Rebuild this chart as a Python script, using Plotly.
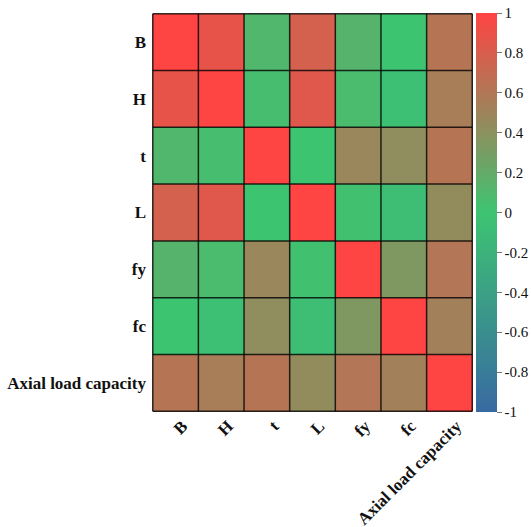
import plotly.graph_objects as go

# Variables in the correlation matrix
labels = ["B", "H", "t", "L", "fy", "fc", "Axial load capacity"]

# Pearson correlation coefficients, one row per variable
row_B = [1.00, 0.88, 0.10, 0.78, 0.13, 0.00, 0.62]
row_H = [0.88, 1.00, 0.05, 0.84, 0.07, -0.05, 0.55]
row_t = [0.10, 0.05, 1.00, 0.00, 0.48, 0.43, 0.62]
row_L = [0.78, 0.84, 0.00, 1.00, 0.02, -0.07, 0.44]
row_fy = [0.13, 0.07, 0.48, 0.02, 1.00, 0.34, 0.61]
row_fc = [0.00, -0.05, 0.43, -0.07, 0.34, 1.00, 0.52]
row_axial = [0.62, 0.55, 0.62, 0.44, 0.61, 0.52, 1.00]

matrix = [row_B, row_H, row_t, row_L, row_fy, row_fc, row_axial]

colorbar_ticks = [1, 0.8, 0.6, 0.4, 0.2, 0, -0.2, -0.4, -0.6, -0.8, -1]

font_family = "Liberation Serif"

fig = go.Figure(
    go.Heatmap(
        z=matrix,
        x=labels,
        y=labels,
        zmin=-1,
        zmax=1,
        colorscale=[
            [0.0, "#386aa2"],
            [0.5, "#3dc471"],
            [1.0, "#ff4444"],
        ],
        colorbar=dict(
            thickness=21,
            len=1.0,
            lenmode="fraction",
            y=0.5,
            yanchor="middle",
            x=1.0,
            xanchor="left",
            xpad=3,
            ypad=0,
            outlinewidth=0,
            tickvals=colorbar_ticks,
            ticktext=[str(v) for v in colorbar_ticks],
            ticks="outside",
            ticklen=5,
            tickcolor="#777777",
            tickfont=dict(family=font_family, size=15, color="#111111"),
        ),
        hoverongaps=False,
    )
)

# Dark cell borders
n = len(labels)
shapes = []
for k in range(n + 1):
    pos = k - 0.5
    shapes.append(dict(type="line", xref="x", yref="y", x0=pos, x1=pos, y0=-0.5, y1=n - 0.5,
                       line=dict(color="rgba(0,0,0,0.8)", width=1.5)))
    shapes.append(dict(type="line", xref="x", yref="y", x0=-0.5, x1=n - 0.5, y0=pos, y1=pos,
                       line=dict(color="rgba(0,0,0,0.8)", width=1.5)))

fig.update_layout(
    width=531,
    height=527,
    margin=dict(l=152, r=58, t=13, b=115, autoexpand=False),
    paper_bgcolor="white",
    plot_bgcolor="white",
    shapes=shapes,
    xaxis=dict(
        tickangle=-45,
        tickfont=dict(family=font_family, size=17, color="#111111", weight="bold"),
        ticks="",
        showgrid=False,
        zeroline=False,
        automargin=False,
        ticklabelstandoff=0,
        ticklabelshift=7,
    ),
    yaxis=dict(
        autorange="reversed",
        tickfont=dict(family=font_family, size=17, color="#111111", weight="bold"),
        ticks="",
        showgrid=False,
        zeroline=False,
        automargin=False,
        ticklabelstandoff=5,
    ),
)

fig.write_html("out.html")
